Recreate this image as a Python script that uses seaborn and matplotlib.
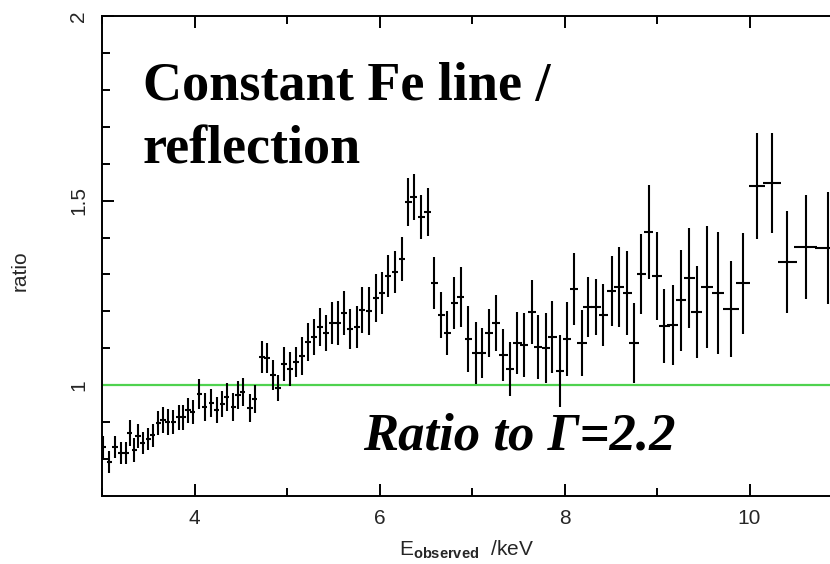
import numpy as np
import pandas as pd
import seaborn as sns
import matplotlib
matplotlib.use("Agg")
import matplotlib.pyplot as plt
from matplotlib.ticker import MultipleLocator, FixedLocator, FuncFormatter

# binned spectrum, ratio to a Gamma=2.2 power law
energy = [3.01, 3.08, 3.14, 3.20, 3.26, 3.30, 3.35, 3.39, 3.44, 3.50,
          3.55, 3.61, 3.66, 3.71, 3.77, 3.83, 3.88, 3.93, 3.98, 4.05,
          4.11, 4.18, 4.24, 4.30, 4.35, 4.42, 4.47, 4.52, 4.60, 4.65,
          4.73, 4.78, 4.85, 4.90, 4.97, 5.03, 5.10, 5.16, 5.23, 5.29,
          5.36, 5.42, 5.49, 5.55, 5.62, 5.68, 5.76, 5.81, 5.89, 5.96,
          6.03, 6.09, 6.17, 6.24, 6.31, 6.37, 6.45, 6.52, 6.59, 6.67,
          6.73, 6.81, 6.88, 6.96, 7.04, 7.11, 7.18, 7.26, 7.34, 7.41,
          7.49, 7.56, 7.65, 7.71, 7.80, 7.87, 7.95, 8.03, 8.10, 8.19,
          8.25, 8.34, 8.42, 8.51, 8.59, 8.68, 8.75, 8.83, 8.91, 9.00,
          9.08, 9.17, 9.26, 9.35, 9.43, 9.54, 9.66, 9.80, 9.93, 10.08,
          10.24, 10.41, 10.61, 10.85]
energy_err = [0.028] * 30 + [0.033] * 24 + [0.038] * 12 + [0.045] * 13 + \
             [0.05] * 11 + [0.058] * 5 + [0.068, 0.068, 0.085, 0.076, 0.087,
                                           0.097, 0.10, 0.124, 0.14]
ratio = [0.832, 0.791, 0.832, 0.816, 0.816, 0.870, 0.824, 0.862, 0.843, 0.854,
         0.864, 0.897, 0.905, 0.900, 0.900, 0.913, 0.913, 0.932, 0.927, 0.976,
         0.940, 0.951, 0.932, 0.949, 0.967, 0.940, 0.973, 0.981, 0.938, 0.962,
         1.076, 1.073, 1.027, 0.992, 1.057, 1.043, 1.062, 1.079, 1.117, 1.130,
         1.157, 1.141, 1.168, 1.168, 1.195, 1.152, 1.157, 1.203, 1.201, 1.236,
         1.249, 1.295, 1.306, 1.341, 1.496, 1.509, 1.455, 1.469, 1.276, 1.190,
         1.141, 1.222, 1.238, 1.125, 1.087, 1.087, 1.141, 1.168, 1.081, 1.043,
         1.114, 1.108, 1.198, 1.103, 1.100, 1.130, 1.038, 1.125, 1.260, 1.114,
         1.211, 1.211, 1.190, 1.255, 1.266, 1.249, 1.114, 1.301, 1.415, 1.295,
         1.160, 1.163, 1.230, 1.290, 1.198, 1.266, 1.249, 1.206, 1.276, 1.539,
         1.547, 1.333, 1.374, 1.371]
ratio_err = [0.030, 0.030, 0.030, 0.030, 0.030, 0.035, 0.033, 0.033, 0.030, 0.030,
             0.030, 0.033, 0.035, 0.035, 0.033, 0.033, 0.033, 0.033, 0.033, 0.041,
             0.038, 0.038, 0.035, 0.035, 0.038, 0.038, 0.038, 0.038, 0.038, 0.038,
             0.043, 0.041, 0.041, 0.035, 0.046, 0.046, 0.041, 0.051, 0.051, 0.049,
             0.051, 0.049, 0.057, 0.060, 0.060, 0.054, 0.057, 0.062, 0.065, 0.065,
             0.057, 0.057, 0.057, 0.060, 0.065, 0.062, 0.060, 0.065, 0.070, 0.062,
             0.060, 0.070, 0.081, 0.089, 0.084, 0.068, 0.065, 0.076, 0.070, 0.073,
             0.084, 0.087, 0.087, 0.087, 0.095, 0.098, 0.098, 0.100, 0.098, 0.089,
             0.081, 0.076, 0.084, 0.095, 0.108, 0.114, 0.108, 0.108, 0.127, 0.119,
             0.100, 0.108, 0.136, 0.136, 0.125, 0.165, 0.165, 0.130, 0.136, 0.144,
             0.136, 0.138, 0.141, 0.152]

df = pd.DataFrame({"energy": energy, "energy_err": energy_err,
                   "ratio": ratio, "ratio_err": ratio_err})

sns.set_theme(style="white")
plt.rcParams["font.family"] = ["Liberation Sans", "DejaVu Sans"]
plt.rcParams["mathtext.fontset"] = "custom"
plt.rcParams["mathtext.rm"] = "Liberation Sans"
plt.rcParams["mathtext.bf"] = "Liberation Sans:bold"

W, H = 830, 564
fig = plt.figure(figsize=(W / 100, H / 100), dpi=100)
ax = fig.add_axes([102 / W, 68 / H, (W - 102) / W, 480 / H])

ax.axhline(1.0, color="#4fd24f", lw=1.6, zorder=1)
ax.errorbar(df["energy"], df["ratio"], xerr=df["energy_err"], yerr=df["ratio_err"],
            fmt="none", ecolor="black", elinewidth=1.5, capsize=0, zorder=2)
sns.despine(ax=ax, top=False, right=True)

ax.set_xlim(3.0, 10.87)
ax.set_ylim(0.7, 2.0)
ax.xaxis.set_major_locator(FixedLocator([4, 6, 8, 10]))
ax.xaxis.set_minor_locator(MultipleLocator(1))
ax.yaxis.set_major_locator(FixedLocator([1.0, 1.5, 2.0]))
ax.yaxis.set_minor_locator(MultipleLocator(0.1))
ax.yaxis.set_major_formatter(FuncFormatter(lambda v, p: f"{v:g}"))

for s in ["left", "bottom", "top"]:
    ax.spines[s].set_color("black")
    ax.spines[s].set_linewidth(1.4)
ax.tick_params(which="both", direction="in", top=True, bottom=True, left=True,
               right=False, color="black", width=1.4, labelsize=15)
ax.tick_params(which="major", length=8.6)
ax.tick_params(which="minor", length=5.5)
ax.tick_params(axis="x", pad=9)
ax.tick_params(axis="y", pad=10)
for lbl in ax.get_yticklabels():
    lbl.set_rotation(90)
    lbl.set_va("center")

ax.set_ylabel("ratio", fontsize=15)
ax.yaxis.set_label_coords(-0.1, 0.47)
ax.set_xlabel(r"$\mathrm{E}_{\mathbf{observed}}$  /keV", fontsize=15)
ax.xaxis.set_label_coords(0.5, -0.088)

serif = ["Liberation Serif", "DejaVu Serif"]
fig.text(143 / W, 1 - 100 / H, "Constant Fe line /", family=serif, weight="bold",
         fontsize=39, ha="left", va="baseline", color="black")
fig.text(143 / W, 1 - 164 / H, "reflection", family=serif, weight="bold",
         fontsize=39, ha="left", va="baseline", color="black")
fig.text(363 / W, 1 - 450 / H, "Ratio to \u0393=2.2", family=serif, weight="bold",
         style="italic", fontsize=38, ha="left", va="baseline", color="black")

fig.savefig("out.png", dpi=100, facecolor="white")
